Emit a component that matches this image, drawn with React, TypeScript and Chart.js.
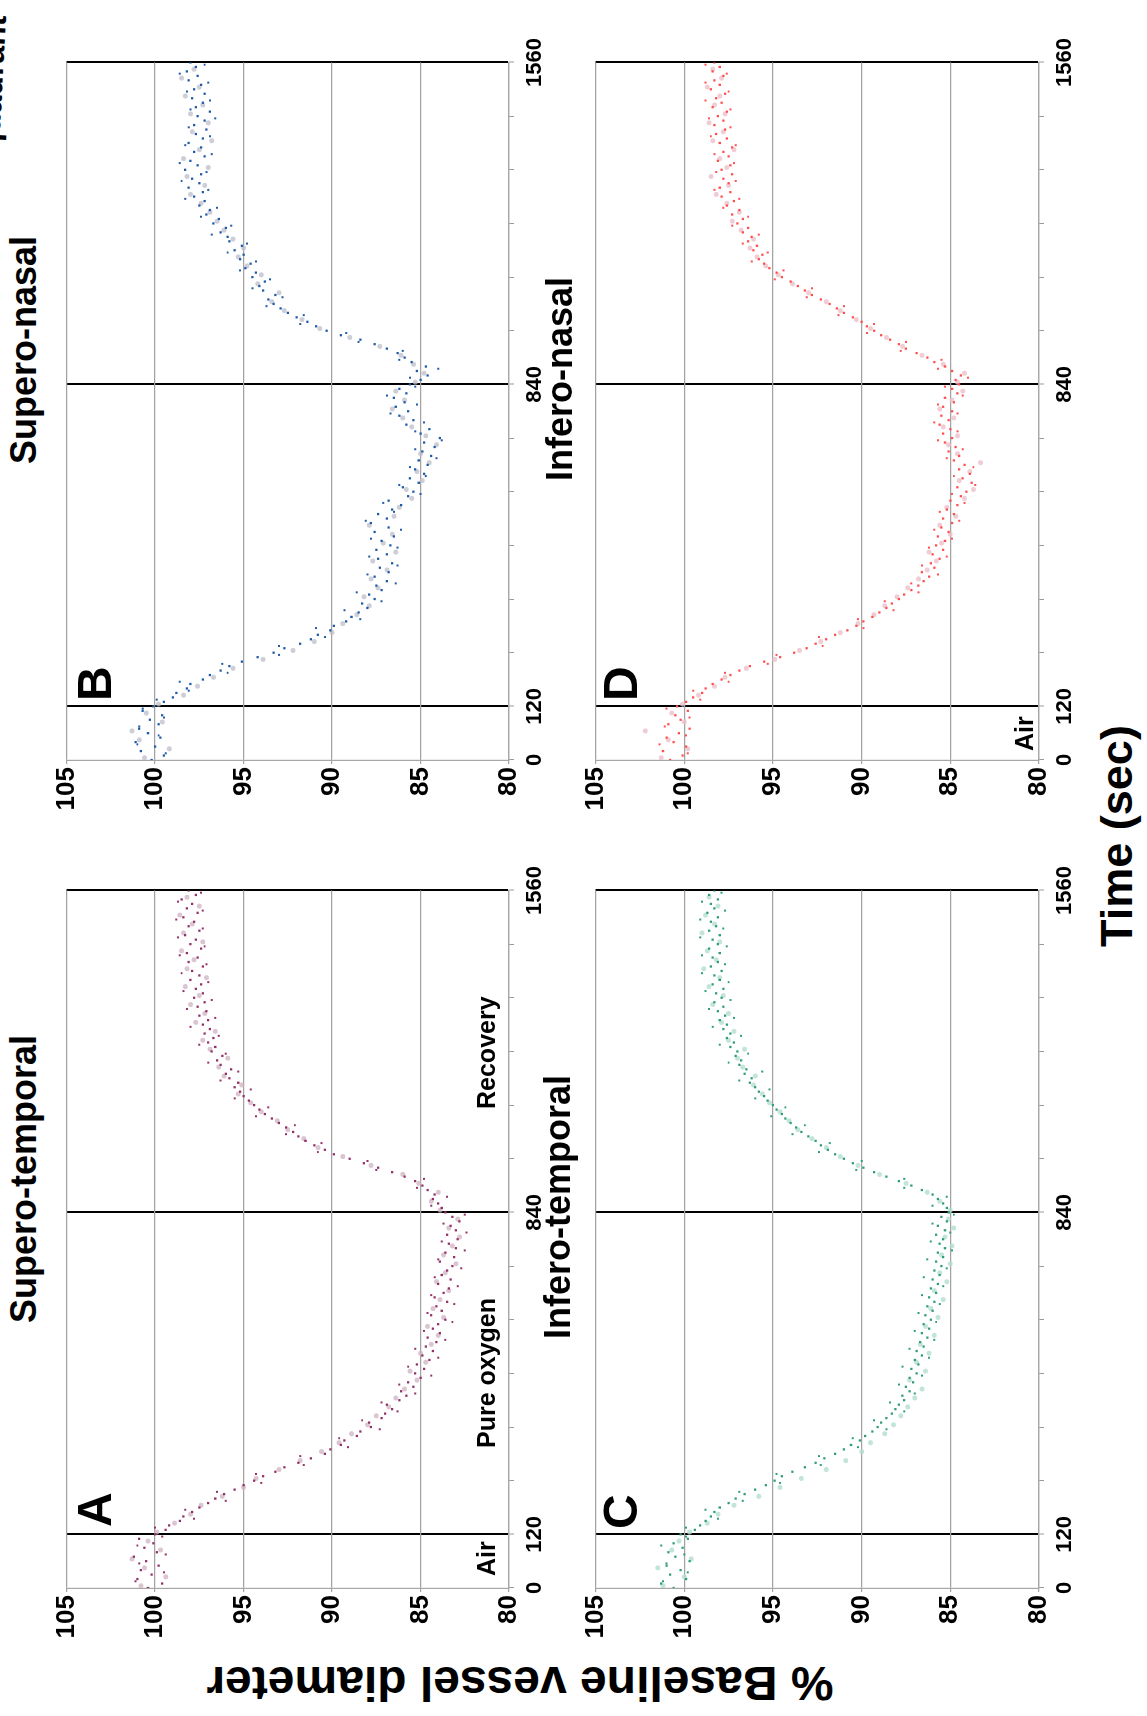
import React, { useEffect, useRef } from "react";
import { Chart, registerables } from "chart.js";

Chart.register(...registerables);
Chart.defaults.font.family = "'Liberation Sans', Arial, sans-serif";

const NARROW = "'Liberation Sans Narrow', 'Arial Narrow', 'Liberation Sans', Arial, sans-serif";
const WIDE = "'Liberation Sans', Arial, sans-serif";

// ---- sampling of the time axis (seconds) ----
const TIME_STEP = 10; // main dark points every 10 s starting at 0
const EXTRA_START = 15; // extra dark points every 20 s starting at 15
const LIGHT_START = 5; // light points every 20 s starting at 5
const HALF_STEP = 20;
const TIME_MIN = 0;
const TIME_MAX = 1560;
const TIME_TICK_STEP = 120;
const TIME_TICK_LABELS = [0, 120, 840, 1560];
const PHASE_LINES = [120, 840, 1560];
const VALUE_MIN = 80;
const VALUE_MAX = 105;
const VALUE_STEP = 5;

// ---- A: Supero-temporal ----
const A_DARK = [
  100.4, 99.6, 101.0, 100.2, 100.8, 99.8, 100.5, 101.2, 99.9, 100.6, 100.1, 100.9, 100.0,
  99.4, 99.2, 98.6, 98.4, 97.9, 97.5, 97.0, 96.6, 96.1, 95.5, 95.0, 94.4,
  93.9, 93.2, 92.7, 91.9, 91.2, 90.4, 90.1, 89.5, 89.3, 88.6, 88.4, 87.8, 87.9, 87.2, 87.0, 86.6,
  86.9, 86.2, 85.8, 86.1, 85.4, 85.7, 85.0, 85.3, 84.8, 85.2, 84.5, 84.9, 84.3, 84.7, 84.1,
  84.6, 83.9, 84.3, 84.0, 83.6, 84.4, 83.8, 84.1, 83.5, 84.2, 83.7, 83.4, 84.0, 83.3, 83.8,
  83.5, 83.2, 83.9, 83.1, 83.6, 83.0, 83.4, 82.9, 83.5, 83.0, 83.3, 82.8, 83.2, 83.6,
  83.8, 84.0, 84.3, 84.2, 84.6, 84.9, 85.3, 85.9, 86.6, 87.4, 88.2, 89.0, 89.9, 90.4, 91.0, 91.5,
  91.9, 92.2, 92.6, 93.0, 93.4, 93.8, 94.1, 94.4, 94.7, 95.0,
  95.2, 95.5, 95.3, 95.8, 96.0, 95.7, 96.3, 96.5, 96.2, 96.8, 96.6, 97.0, 96.7, 97.2, 96.9,
  97.3, 97.0, 97.5, 97.1, 97.6, 97.2, 97.8, 97.3, 97.7, 97.4, 98.0, 97.5, 97.9, 97.3, 98.1,
  97.6, 98.2, 97.4, 98.0, 97.7, 98.3, 97.5, 98.1, 97.8, 98.4, 97.6, 98.2, 97.9, 98.5, 97.7, 98.1,
];
const A_EXTRA = [
  101.1, 99.5, 100.9, 99.4, 101.0, 99.6, 100.0, 97.8, 98.3, 96.0,
  96.5, 94.0, 94.3, 91.6, 91.8, 89.1, 89.6, 87.3, 88.3, 86.3,
  87.2, 85.3, 86.2, 84.4, 85.7, 84.0, 85.3, 83.6, 84.8, 83.2,
  84.6, 83.1, 84.4, 82.9, 84.2, 82.7, 84.0, 82.5, 83.8, 82.4,
  83.7, 82.5, 84.4, 83.5, 85.2, 84.8, 87.5, 88.0, 90.8, 90.6,
  92.6, 92.1, 94.3, 93.6, 95.5, 94.6, 96.3, 95.3, 97.0, 96.0,
  97.5, 96.4, 98.0, 96.6, 98.2, 96.8, 98.4, 97.0, 98.5, 97.1,
  98.6, 97.2, 98.7, 97.3, 98.8, 97.3, 98.7, 97.4,
];
const A_LIGHT = [
  100.8, 99.4, 100.6, 101.3, 99.7, 100.4, 99.9, 98.9, 98.0, 97.4, 96.2, 95.0, 94.3, 93.0, 91.8,
  90.6, 89.6, 88.9, 88.0, 87.5, 86.8, 86.4, 85.9, 85.2, 85.6, 84.7, 85.0, 84.4, 84.0, 84.6,
  83.7, 84.3, 83.9, 83.4, 84.1, 83.6, 83.0, 83.7, 83.2, 82.8, 83.4, 82.9, 83.9, 84.4, 84.0,
  85.1, 86.0, 87.8, 89.4, 90.8, 91.6, 92.5, 93.1, 94.0, 94.6, 95.3, 95.1, 96.1, 96.4, 95.9,
  96.9, 97.3, 96.6, 97.7, 97.2, 98.0, 97.5, 98.3, 97.1, 98.2, 97.8, 98.5, 97.3, 98.4, 97.9,
  98.6, 97.5, 98.2,
];

// ---- B: Supero-nasal ----
const B_DARK = [
  100.2, 99.5, 100.8, 100.0, 101.1, 99.7, 100.4, 100.9, 99.8, 100.3, 99.6, 100.7, 100.1,
  99.5, 99.0, 98.8, 98.2, 98.0, 97.3, 96.9, 96.3, 95.8, 95.1, 94.2, 93.3,
  92.7, 91.8, 91.2, 90.8, 90.1, 89.9, 89.2, 88.9, 88.5, 88.0, 88.3, 87.6, 87.9, 87.2, 87.5, 86.9,
  87.6, 86.8, 87.3, 86.6, 87.4, 86.9, 87.5, 86.7, 87.2, 86.5, 87.6, 86.8, 87.8, 86.9, 87.4,
  86.6, 86.1, 86.8, 85.7, 85.4, 86.0, 85.1, 85.6, 84.8, 85.3, 84.6, 85.1, 84.4, 84.9, 84.2,
  84.8, 83.9, 85.0, 84.5, 85.8, 85.4, 86.2, 85.7, 86.4, 85.9, 86.5, 85.8, 86.2, 85.6,
  85.0, 84.6, 85.2, 84.7, 85.5, 85.9, 86.3, 86.9, 87.6, 88.4, 89.5, 90.3, 90.9, 91.4, 92.0, 92.5,
  92.9, 93.3, 93.6, 93.2, 93.9, 94.1, 93.8, 94.5, 94.3, 94.9,
  94.6, 95.2, 95.0, 95.5, 95.1, 95.8, 95.9, 96.3, 96.0, 96.7, 96.4, 97.1, 96.9, 97.5, 97.2,
  97.8, 97.3, 98.1, 97.5, 97.9, 97.4, 98.3, 97.6, 98.0, 97.2, 97.8, 97.4, 98.1, 97.3, 97.7,
  97.1, 97.8, 97.2, 97.6, 96.9, 97.7, 97.3, 97.9, 97.2, 97.8, 97.4, 98.1, 97.6, 98.2, 97.7, 98.0,
];
const B_EXTRA = [
  99.4, 101.0, 99.8, 100.9, 99.5, 100.7, 99.9, 98.1, 98.6, 95.9,
  96.2, 93.0, 93.0, 90.4, 90.9, 88.4, 89.3, 87.2, 88.6, 86.4,
  88.0, 86.3, 87.9, 86.3, 87.8, 86.1, 88.1, 86.5, 87.1, 85.0,
  86.2, 84.7, 85.6, 84.1, 85.3, 83.8, 85.3, 84.8, 86.7, 85.2,
  86.9, 85.3, 85.6, 84.0, 86.2, 86.0, 88.5, 89.2, 91.8, 91.6,
  93.7, 92.8, 94.5, 93.5, 95.2, 94.3, 95.9, 94.8, 96.8, 95.7,
  97.4, 96.5, 98.3, 97.0, 98.5, 97.1, 98.6, 96.8, 98.3, 96.9,
  98.1, 96.6, 98.0, 96.9, 98.2, 97.0, 98.6, 97.2,
];
const B_LIGHT = [
  100.6, 99.2, 100.9, 101.3, 99.6, 100.5, 99.8, 98.4, 97.6, 96.7, 95.6, 93.9, 92.2, 91.0, 90.0,
  89.4, 88.6, 87.9, 88.2, 87.4, 87.8, 86.9, 87.7, 86.4, 87.1, 86.6, 87.9, 86.5, 86.2, 85.5,
  85.8, 84.9, 85.2, 84.5, 85.0, 84.1, 84.7, 85.5, 86.0, 86.6, 85.9, 86.4, 85.3, 84.8, 85.4,
  86.1, 87.3, 89.0, 90.7, 91.7, 92.7, 93.4, 93.0, 94.2, 94.0, 94.8, 95.3, 95.0, 95.6, 96.1,
  96.5, 96.9, 97.4, 98.0, 97.2, 98.2, 97.0, 98.4, 97.5, 96.8, 97.9, 97.0, 98.0, 97.3, 98.3,
  97.5, 98.5, 97.8,
];

// ---- C: Infero-temporal ----
const C_DARK = [
  100.6, 101.3, 99.9, 100.8, 100.2, 101.0, 99.7, 100.5, 100.9, 100.1, 100.6, 99.8, 100.2,
  99.4, 99.1, 98.8, 98.5, 98.3, 98.0, 97.5, 97.1, 96.6, 96.0, 95.4, 94.9,
  94.5, 93.9, 93.2, 92.6, 92.1, 91.5, 91.0, 90.6, 90.1, 89.8, 89.4, 89.1, 88.9, 88.6, 88.3, 88.1,
  87.9, 87.6, 87.7, 87.3, 87.5, 87.1, 87.3, 86.9, 87.2, 86.8, 87.0, 86.6, 86.9, 86.5, 86.7,
  86.3, 86.6, 86.2, 86.5, 86.1, 86.4, 86.0, 86.3, 85.9, 86.2, 85.8, 86.1, 85.7, 86.0, 85.6,
  85.9, 85.5, 85.8, 85.4, 85.7, 85.3, 85.6, 85.4, 85.8, 85.3, 85.7, 85.2, 85.5, 85.1,
  85.2, 85.4, 85.7, 86.0, 86.6, 87.2, 87.9, 88.6, 89.3, 89.9, 90.5, 91.0, 91.5, 91.9, 92.3, 92.6,
  93.0, 93.4, 93.7, 94.0, 94.3, 94.5, 94.8, 95.0, 95.3, 95.5,
  95.8, 96.0, 96.3, 96.2, 96.6, 96.5, 96.9, 96.8, 97.1, 97.0, 97.4, 97.2, 97.6, 97.4, 97.8,
  97.6, 98.0, 97.7, 98.1, 97.8, 98.3, 97.9, 98.2, 97.8, 98.4, 98.0, 98.3, 97.9, 98.5, 98.1,
  98.4, 98.0, 98.6, 98.1, 98.4, 98.0, 98.6, 98.2, 98.5, 98.1, 98.7, 98.3, 98.5, 98.1, 98.6, 98.3,
];
const C_EXTRA = [
  101.2, 99.8, 101.0, 100.0, 101.3, 99.9, 99.9, 98.1, 98.8, 96.7,
  96.9, 94.6, 94.8, 92.3, 92.4, 90.2, 90.5, 88.6, 89.3, 87.6,
  88.4, 87.0, 87.9, 86.6, 87.7, 86.2, 87.3, 85.9, 87.0, 85.8,
  86.8, 85.6, 86.6, 85.4, 86.5, 85.2, 86.3, 84.9, 86.1, 85.0,
  86.0, 84.8, 86.0, 85.2, 87.6, 87.6, 90.3, 90.0, 92.4, 91.8,
  93.9, 93.2, 95.1, 94.3, 96.0, 95.2, 96.9, 95.6, 97.5, 96.4,
  98.0, 96.8, 98.4, 97.2, 98.6, 97.4, 98.8, 97.5, 99.0, 97.7,
  99.0, 97.6, 99.1, 97.8, 99.1, 97.7, 99.0, 97.9,
];
const C_LIGHT = [
  101.2, 100.0, 101.5, 99.6, 100.7, 100.3, 99.7, 98.7, 98.1, 97.2, 95.8, 94.6, 93.4, 92.0, 90.9,
  90.0, 89.5, 88.7, 88.2, 87.8, 87.4, 87.0, 86.6, 87.3, 86.4, 86.9, 86.2, 86.7, 85.9, 86.4,
  85.7, 86.1, 85.4, 85.9, 85.2, 85.6, 85.0, 85.5, 84.9, 85.3, 84.8, 85.1, 85.0, 85.6, 86.3,
  87.5, 89.0, 90.2, 91.2, 92.0, 92.8, 93.6, 94.1, 94.6, 95.2, 95.6, 96.1, 96.0, 96.7, 97.0,
  96.6, 97.5, 97.2, 97.9, 97.5, 98.4, 97.8, 98.6, 98.0, 98.9, 98.2, 98.7, 98.0, 99.0, 98.3,
  98.8, 98.1, 98.6,
];

// ---- D: Infero-nasal ----
const D_DARK = [
  100.8, 100.1, 101.2, 99.9, 100.6, 101.0, 100.3, 99.7, 100.9, 100.2, 100.5, 99.8, 100.4,
  99.9, 99.5, 99.0, 98.8, 98.4, 97.9, 97.4, 96.9, 96.3, 95.5, 94.6, 93.8,
  93.1, 92.6, 92.0, 91.5, 90.8, 90.3, 89.9, 89.4, 89.0, 88.6, 88.3, 87.9, 87.6, 87.2, 86.8, 86.5,
  86.2, 86.6, 85.9, 86.1, 85.6, 86.0, 85.4, 85.8, 85.3, 85.7, 85.1, 85.5, 84.9, 85.4, 84.8,
  85.2, 84.6, 85.0, 84.4, 84.1, 84.6, 83.8, 84.3, 83.9, 84.5, 84.2, 84.8, 84.5, 85.1, 84.7,
  85.3, 84.9, 85.4, 85.0, 85.6, 85.1, 85.5, 84.9, 85.4, 84.8, 85.3, 84.6, 84.9, 84.5,
  84.7, 84.4, 84.9, 85.3, 85.9, 86.3, 86.9, 87.5, 87.9, 88.4, 88.9, 89.3, 89.7, 90.0, 90.5, 91.0,
  91.4, 91.8, 92.3, 92.8, 93.2, 93.6, 94.0, 94.5, 94.8, 95.2,
  95.5, 95.8, 95.6, 96.1, 95.9, 96.4, 96.2, 96.7, 96.4, 97.0, 96.7, 97.3, 96.9, 97.6, 97.2,
  97.9, 97.4, 98.0, 97.5, 97.8, 97.3, 97.9, 97.4, 98.1, 97.5, 97.8, 97.3, 98.0, 97.6, 98.2,
  97.7, 98.3, 97.8, 98.1, 97.6, 98.4, 97.9, 98.2, 97.7, 98.5, 98.0, 98.3, 97.8, 98.4, 98.0, 98.3,
];
const D_EXTRA = [
  99.8, 101.4, 99.9, 101.1, 99.7, 101.0, 99.1, 99.5, 97.5, 97.7,
  95.3, 94.8, 92.2, 92.4, 89.9, 90.2, 88.2, 88.7, 86.8, 87.2,
  85.7, 86.6, 85.2, 86.2, 84.9, 85.9, 84.5, 85.6, 84.2, 84.9,
  83.6, 84.8, 83.7, 85.2, 84.3, 85.7, 84.6, 85.9, 84.6, 85.7,
  84.3, 85.3, 84.0, 85.7, 85.5, 87.8, 87.5, 89.7, 89.3, 91.3,
  91.0, 93.1, 92.8, 94.9, 94.4, 96.2, 95.3, 96.7, 95.8, 97.3,
  96.4, 97.8, 96.9, 98.3, 97.1, 98.2, 97.2, 98.3, 97.1, 98.5,
  97.4, 98.6, 97.4, 98.8, 97.5, 98.8, 97.6, 98.8,
];
const D_LIGHT = [
  101.3, 99.8, 100.9, 102.2, 100.0, 100.7, 100.1, 99.2, 98.3, 97.7, 96.5, 94.9, 93.5, 92.3, 91.2,
  90.2, 89.3, 88.7, 88.0, 87.4, 86.8, 86.3, 85.8, 86.2, 85.5, 85.0, 85.6, 84.7, 85.2, 84.2,
  83.7, 84.5, 83.9, 83.3, 84.6, 85.1, 84.6, 85.4, 84.8, 85.6, 84.9, 84.3, 84.6, 84.2, 85.4,
  86.6, 87.7, 88.6, 89.5, 90.3, 91.2, 92.0, 93.0, 93.9, 94.7, 95.4, 95.9, 96.3, 96.1, 96.8,
  97.3, 96.9, 97.6, 98.2, 97.5, 98.5, 97.6, 98.0, 97.2, 98.4, 97.8, 98.6, 97.7, 98.3, 98.0,
  98.7, 97.9, 98.4,
];

// ---- layout (in the un-rotated figure, 1716 x 1147) ----
const AXIS_W = 64;
const AXIS_H = 46;
const PAD_T = 18;
const PAD_R = 30;
const AREA_W = 700;

type PanelDef = {
  left: number;
  top: number;
  h: number;
  dark: number[];
  extra: number[];
  light: number[];
  darkColor: string;
  lightColor: string;
};

const PANELS: PanelDef[] = [
  { left: 128, top: 66, h: 443, dark: A_DARK, extra: A_EXTRA, light: A_LIGHT, darkColor: "#93306a", lightColor: "rgba(205,178,192,0.75)" },
  { left: 956, top: 66, h: 443, dark: B_DARK, extra: B_EXTRA, light: B_LIGHT, darkColor: "#1f5aa8", lightColor: "rgba(188,190,202,0.75)" },
  { left: 128, top: 595, h: 444, dark: C_DARK, extra: C_EXTRA, light: C_LIGHT, darkColor: "#2f9c7e", lightColor: "rgba(180,222,206,0.8)" },
  { left: 956, top: 595, h: 444, dark: D_DARK, extra: D_EXTRA, light: D_LIGHT, darkColor: "#ff4e4e", lightColor: "rgba(236,192,202,0.8)" },
];

function toPoints(values: number[], start: number, step: number) {
  return values.map((v, i) => ({ x: start + i * step, y: v }));
}

function Panel({ p }: { p: PanelDef }) {
  const ref = useRef<HTMLCanvasElement | null>(null);
  const w = AXIS_W + AREA_W + PAD_R;
  const h = PAD_T + p.h + AXIS_H;
  useEffect(() => {
    if (!ref.current) return;
    const chart = new Chart(ref.current, {
      type: "scatter",
      data: {
        datasets: [
          {
            data: toPoints(p.dark, TIME_MIN, TIME_STEP),
            backgroundColor: p.darkColor,
            borderWidth: 0,
            pointRadius: 1.6,
            pointStyle: "rect",
          },
          {
            data: toPoints(p.extra, EXTRA_START, HALF_STEP),
            backgroundColor: p.darkColor,
            borderWidth: 0,
            pointRadius: 1.4,
            pointStyle: "rect",
          },
          {
            data: toPoints(p.light, LIGHT_START, HALF_STEP),
            backgroundColor: p.lightColor,
            borderWidth: 0,
            pointRadius: 2.5,
          },
        ],
      },
      options: {
        responsive: false,
        animation: false,
        events: [],
        layout: { padding: { top: PAD_T, right: PAD_R, bottom: 0, left: 0 } },
        plugins: { legend: { display: false }, tooltip: { enabled: false } },
        scales: {
          x: {
            type: "linear",
            min: TIME_MIN,
            max: TIME_MAX,
            afterFit: (s: any) => {
              s.height = AXIS_H;
            },
            ticks: {
              stepSize: TIME_TICK_STEP,
              autoSkip: false,
              maxRotation: 0,
              minRotation: 0,
              padding: 8,
              color: "#000",
              font: { size: 22, weight: "bold", family: NARROW },
              callback: (v: any) => (TIME_TICK_LABELS.includes(Number(v)) ? String(v) : ""),
            },
            grid: {
              color: (c: any) => (c.tick && PHASE_LINES.includes(c.tick.value) ? "#000" : "rgba(0,0,0,0)"),
              lineWidth: (c: any) => (c.tick && PHASE_LINES.includes(c.tick.value) ? 2 : 1),
              drawTicks: true,
              tickLength: 5,
              tickColor: "#9a9a9a",
              tickWidth: 1,
            },
            border: { display: true, color: "#a6a6a6", width: 1.2 },
          },
          y: {
            min: VALUE_MIN,
            max: VALUE_MAX,
            afterFit: (s: any) => {
              s.width = AXIS_W;
            },
            ticks: {
              stepSize: VALUE_STEP,
              padding: 3,
              color: "#000",
              font: { size: 26, weight: "bold", family: NARROW },
            },
            grid: {
              color: "#a3a3a3",
              lineWidth: 1.2,
              tickLength: 4,
              tickColor: "#a3a3a3",
            },
            border: { display: true, color: "#a6a6a6", width: 1.2 },
          },
        },
      },
    });
    return () => chart.destroy();
  }, []);
  return (
    <canvas
      ref={ref}
      width={w}
      height={h}
      style={{ position: "absolute", left: p.left - AXIS_W, top: p.top - PAD_T, width: w, height: h }}
    />
  );
}

type TextDef = {
  text: string;
  x: number;
  y: number;
  size: number;
  anchor?: "left" | "center" | "right";
  family?: string;
};

const TEXTS: TextDef[] = [
  { text: "Supero-temporal", x: 537, y: 6, size: 36, anchor: "center" },
  { text: "Supero-nasal", x: 1366, y: 6, size: 36, anchor: "center" },
  { text: "Infero-temporal", x: 509, y: 540, size: 36, anchor: "center" },
  { text: "Infero-nasal", x: 1337, y: 542, size: 36, anchor: "center" },
  { text: "A", x: 189, y: 71, size: 48 },
  { text: "B", x: 1015, y: 71, size: 48 },
  { text: "C", x: 187, y: 597, size: 48 },
  { text: "D", x: 1015, y: 597, size: 48 },
  { text: "Air", x: 140, y: 474, size: 25, family: NARROW },
  { text: "Pure oxygen", x: 268, y: 474, size: 25, family: NARROW },
  { text: "Recovery", x: 607, y: 474, size: 25, family: NARROW },
  { text: "Air", x: 965, y: 1012, size: 25, family: NARROW },
  { text: "Time (sec)", x: 880, y: 1094, size: 45, anchor: "center" },
];

function Txt({ t }: { t: TextDef }) {
  const tx = t.anchor === "center" ? "translateX(-50%)" : t.anchor === "right" ? "translateX(-100%)" : "";
  return (
    <div
      style={{
        position: "absolute",
        left: t.x,
        top: t.y,
        fontSize: t.size,
        fontFamily: t.family || WIDE,
        fontWeight: "bold",
        lineHeight: 1,
        whiteSpace: "nowrap",
        transform: tx,
      }}
    >
      {t.text}
    </div>
  );
}

export default function App() {
  return (
    <div style={{ position: "absolute", left: 0, top: 0, width: 1147, height: 1716, overflow: "hidden", background: "#fff" }}>
      <div
        style={{
          position: "absolute",
          left: 0,
          top: 0,
          width: 1716,
          height: 1147,
          transformOrigin: "0 0",
          transform: "translateY(1716px) rotate(-90deg)",
          fontFamily: WIDE,
          color: "#000",
        }}
      >
        {PANELS.map((p, i) => (
          <Panel key={i} p={p} />
        ))}
        {TEXTS.map((t, i) => (
          <Txt key={i} t={t} />
        ))}
        <div
          style={{
            position: "absolute",
            left: 1700,
            top: -21,
            fontSize: 32,
            fontWeight: "bold",
            lineHeight: 1,
            whiteSpace: "nowrap",
            transformOrigin: "100% 100%",
            transform: "translateX(-100%) rotate(3deg)",
          }}
        >
          in each retinal quadrant
        </div>
        <div
          style={{
            position: "absolute",
            left: 33,
            top: 520,
            fontSize: 48,
            fontWeight: "bold",
            lineHeight: 1,
            whiteSpace: "nowrap",
            transform: "translate(-50%, -50%) rotate(-90deg)",
          }}
        >
          % Baseline vessel diameter
        </div>
      </div>
    </div>
  );
}
